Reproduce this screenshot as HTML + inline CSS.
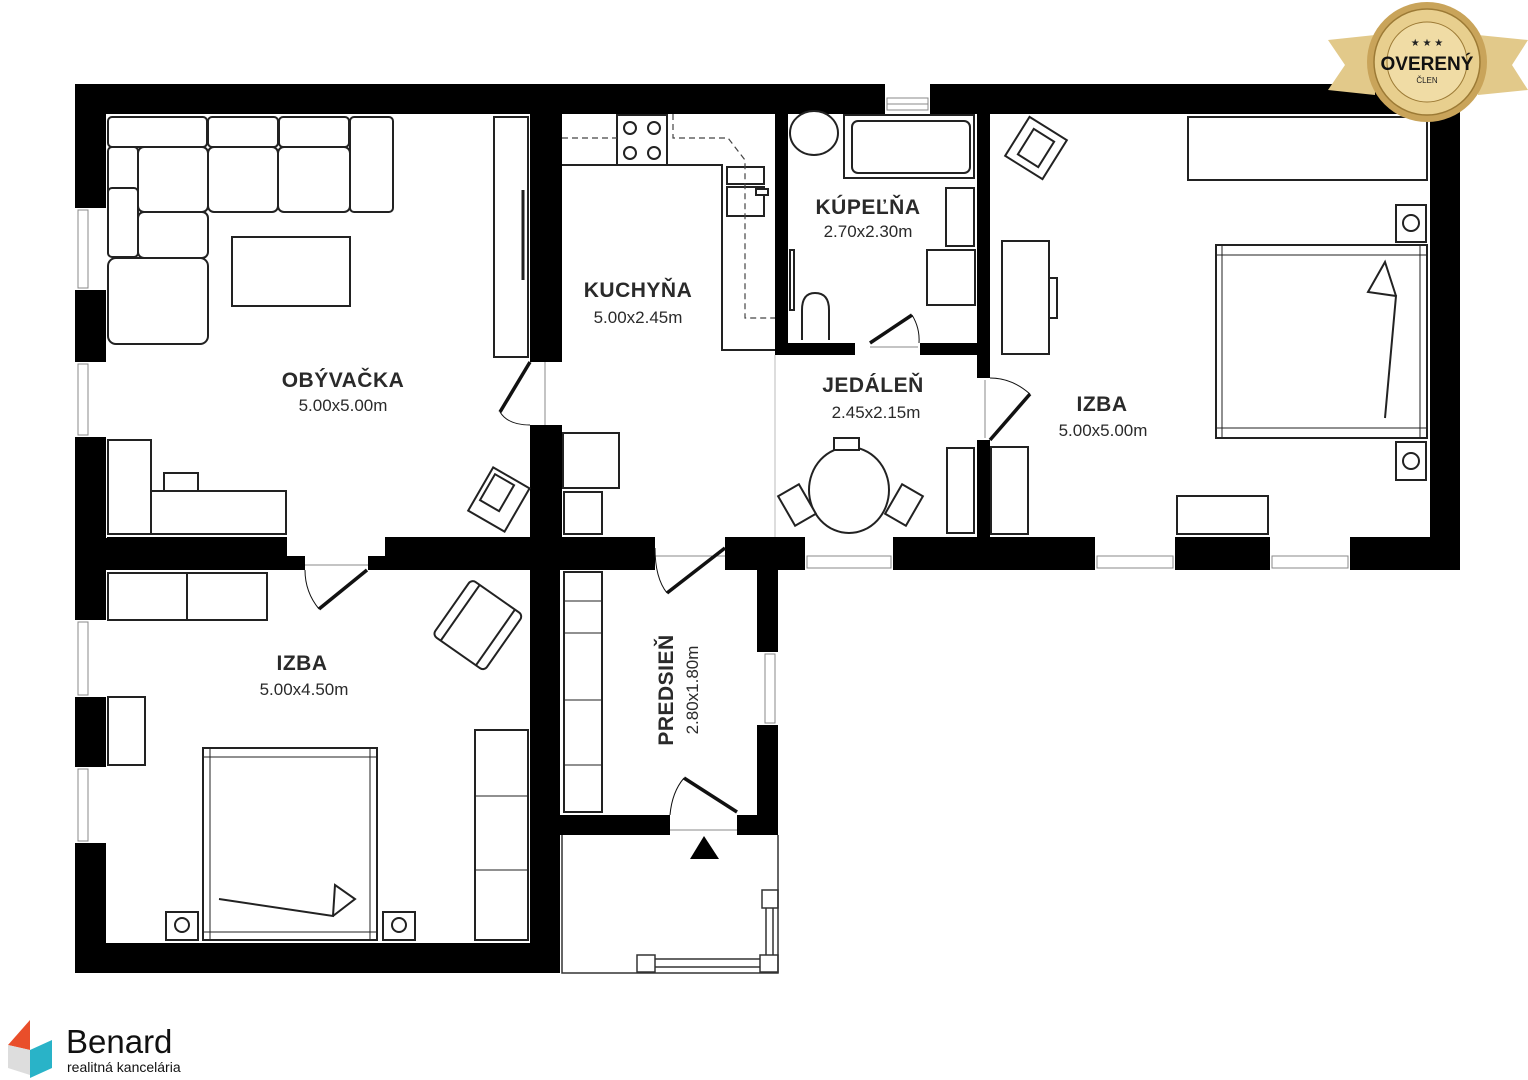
<!DOCTYPE html>
<html><head><meta charset="utf-8"><style>
html,body{margin:0;padding:0;background:#fff;}
svg{display:block}
.t{font-family:"Liberation Sans",sans-serif;font-weight:bold;font-size:21px;fill:#2a2a2a;text-anchor:middle;letter-spacing:0.5px}
.s{font-family:"Liberation Sans",sans-serif;font-size:17px;fill:#2a2a2a;text-anchor:middle}
</style></head><body>
<svg width="1528" height="1080" viewBox="0 0 1528 1080" xmlns="http://www.w3.org/2000/svg">
<g fill="#000">
<!-- outer walls -->
<rect x="75" y="84" width="1385" height="30"/>
<rect x="75" y="84" width="31" height="889"/>
<rect x="1430" y="84" width="30" height="486"/>
<rect x="75" y="943" width="485" height="30"/>
<!-- middle horizontal -->
<rect x="75" y="537" width="1385" height="33"/>
<!-- living/kitchen partition -->
<rect x="530" y="114" width="32" height="423"/>
<rect x="530" y="537" width="30" height="436"/>
<!-- bathroom -->
<rect x="775" y="114" width="13" height="241"/>
<rect x="775" y="343" width="215" height="12"/>
<rect x="977" y="114" width="13" height="423"/>
<!-- predsien -->
<rect x="757" y="570" width="21" height="265"/>
<rect x="560" y="815" width="218" height="20"/>
</g>
<!-- openings (white) -->
<g fill="#fff">
<rect x="885" y="84" width="45" height="30"/>
<rect x="75" y="208" width="31" height="82"/>
<rect x="75" y="362" width="31" height="75"/>
<rect x="75" y="620" width="31" height="77"/>
<rect x="75" y="767" width="31" height="76"/>
<rect x="530" y="362" width="32" height="63"/>
<rect x="977" y="378" width="13" height="62"/>
<rect x="287" y="537" width="98" height="19"/>
<rect x="305" y="556" width="63" height="14"/>
<rect x="655" y="537" width="70" height="33"/>
<rect x="805" y="537" width="88" height="33"/>
<rect x="1095" y="537" width="80" height="33"/>
<rect x="1270" y="537" width="80" height="33"/>
<rect x="757" y="652" width="21" height="73"/>
<rect x="670" y="815" width="67" height="20"/>
<rect x="855" y="343" width="65" height="12"/>
<rect x="106" y="537" width="1" height="1"/>
</g>
<g fill="none" stroke="#888" stroke-width="1">
<rect x="887" y="98" width="41" height="12"/><line x1="887" y1="104" x2="928" y2="104"/>
<rect x="78" y="210" width="10" height="78"/><rect x="78" y="364" width="10" height="71"/>
<rect x="78" y="622" width="10" height="73"/><rect x="78" y="769" width="10" height="72"/>
<rect x="807" y="556" width="84" height="12"/><rect x="1097" y="556" width="76" height="12"/><rect x="1272" y="556" width="76" height="12"/>
<rect x="765" y="654" width="10" height="69"/>
<line x1="775" y1="355" x2="775" y2="537" stroke="#bbb"/>
<line x1="545" y1="362" x2="545" y2="425"/><line x1="985" y1="380" x2="985" y2="438"/>
<line x1="655" y1="556" x2="725" y2="556"/><line x1="305" y1="565" x2="368" y2="565"/>
<line x1="670" y1="830" x2="737" y2="830"/><line x1="870" y1="347" x2="918" y2="347"/>
</g>
<!-- porch -->
<g fill="none" stroke="#333" stroke-width="1.5">
<path d="M562 835 V973 H778 V835"/>
<rect x="762" y="890" width="16" height="18"/><rect x="637" y="955" width="18" height="17"/><rect x="760" y="955" width="18" height="17"/>
<line x1="766" y1="908" x2="766" y2="955"/><line x1="773" y1="908" x2="773" y2="955"/>
<line x1="655" y1="959" x2="760" y2="959"/><line x1="655" y1="967" x2="760" y2="967"/>
</g>
<polygon points="704,836 690,859 719,859" fill="#000"/>
<!-- doors -->
<g stroke="#111" stroke-width="3.5" fill="none">
<line x1="530" y1="362" x2="500" y2="412"/><line x1="367" y1="570" x2="319" y2="609"/>
<line x1="725" y1="548" x2="667" y2="593"/><line x1="1030" y1="394" x2="990" y2="440"/>
<line x1="870" y1="343" x2="912" y2="315"/><line x1="737" y1="812" x2="684" y2="778"/>
</g>
<g stroke="#111" stroke-width="1" fill="none">
<path d="M500 412 Q508 425 530 425"/><path d="M319 609 Q305 592 305 570"/>
<path d="M667 593 Q655 578 655 548"/><path d="M1030 394 Q1012 378 990 378"/>
<path d="M912 315 Q920 328 919 343"/><path d="M684 778 Q672 792 670 815"/>
</g>
<!-- furniture -->
<g fill="#fff" stroke="#222" stroke-width="2">
<!-- sofa -->
<rect x="108" y="117" width="99" height="30" rx="4"/><rect x="208" y="117" width="70" height="30" rx="4"/><rect x="279" y="117" width="70" height="30" rx="4"/><rect x="350" y="117" width="43" height="95" rx="4"/>
<rect x="108" y="147" width="30" height="68" rx="4"/><rect x="108" y="188" width="30" height="69" rx="4"/>
<rect x="138" y="147" width="70" height="65" rx="6"/><rect x="208" y="147" width="70" height="65" rx="6"/><rect x="278" y="147" width="72" height="65" rx="6"/>
<rect x="138" y="212" width="70" height="46" rx="6"/><rect x="108" y="258" width="100" height="86" rx="8"/>
<rect x="232" y="237" width="118" height="69"/>
<rect x="494" y="117" width="34" height="240"/>
<line x1="523" y1="190" x2="523" y2="280" stroke-width="3"/>
<rect x="108" y="440" width="43" height="94"/><rect x="151" y="491" width="135" height="43"/><rect x="164" y="473" width="34" height="18"/>
<g transform="rotate(30 498 499)"><rect x="478" y="474" width="42" height="50"/><rect x="483" y="479" width="22" height="30"/></g>
<!-- kitchen -->
<path d="M562 165 H722 V350 H775" fill="none"/>
<rect x="617" y="115" width="50" height="50"/>
<circle cx="630" cy="128" r="6"/><circle cx="654" cy="128" r="6"/><circle cx="630" cy="153" r="6"/><circle cx="654" cy="153" r="6"/>
<rect x="727" y="167" width="37" height="17"/><rect x="727" y="187" width="37" height="29"/><rect x="756" y="189" width="12" height="6"/>
<rect x="563" y="433" width="56" height="55"/><rect x="564" y="492" width="38" height="42"/>
<!-- bath -->
<rect x="844" y="115" width="130" height="63"/><rect x="852" y="121" width="118" height="52" rx="6"/>
<ellipse cx="814" cy="133" rx="24" ry="22"/>
<rect x="946" y="188" width="28" height="58"/><rect x="927" y="250" width="48" height="55"/>
<path d="M802 340 V310 Q802 293 815 293 Q829 293 829 310 V340"/>
<rect x="790" y="250" width="4" height="60"/>
<!-- dining -->
<ellipse cx="849" cy="490" rx="40" ry="43"/>
<rect x="834" y="438" width="25" height="12"/>
<g transform="rotate(-30 797 505)"><rect x="785" y="488" width="24" height="34"/></g>
<g transform="rotate(30 904 505)"><rect x="892" y="488" width="24" height="34"/></g>
<rect x="947" y="448" width="27" height="85"/>
<!-- izba right -->
<rect x="1188" y="117" width="239" height="63"/>
<g transform="rotate(32 1036 148)"><rect x="1014" y="125" width="44" height="46"/><rect x="1024" y="133" width="24" height="30"/></g>
<rect x="1002" y="241" width="47" height="113"/><rect x="1049" y="278" width="8" height="40"/>
<rect x="1216" y="245" width="211" height="193"/>
<line x1="1222" y1="245" x2="1222" y2="438" stroke-width="1"/><line x1="1420" y1="245" x2="1420" y2="438" stroke-width="1"/>
<line x1="1216" y1="255" x2="1427" y2="255" stroke-width="1"/><line x1="1216" y1="428" x2="1427" y2="428" stroke-width="1"/>
<path d="M1385 418 L1396 296 L1368 292 L1385 262 L1396 296" fill="none"/>
<rect x="1396" y="205" width="30" height="37"/><circle cx="1411" cy="223" r="8"/>
<rect x="1396" y="442" width="30" height="38"/><circle cx="1411" cy="461" r="8"/>
<rect x="991" y="447" width="37" height="87"/>
<rect x="1177" y="496" width="91" height="38"/>
<!-- izba left -->
<rect x="108" y="573" width="79" height="47"/><rect x="187" y="573" width="80" height="47"/>
<g transform="rotate(35 478 624)"><rect x="447" y="591" width="63" height="68" rx="5"/><line x1="457" y1="591" x2="457" y2="659"/><line x1="500" y1="591" x2="500" y2="659"/></g>
<rect x="108" y="697" width="37" height="68"/>
<rect x="475" y="730" width="53" height="210"/><line x1="475" y1="796" x2="528" y2="796" stroke-width="1"/><line x1="475" y1="870" x2="528" y2="870" stroke-width="1"/>
<rect x="203" y="748" width="174" height="192"/>
<line x1="210" y1="748" x2="210" y2="940" stroke-width="1"/><line x1="370" y1="748" x2="370" y2="940" stroke-width="1"/>
<line x1="203" y1="757" x2="377" y2="757" stroke-width="1"/><line x1="203" y1="932" x2="377" y2="932" stroke-width="1"/>
<path d="M219 899 L333 916 L335 885 L355 899 L333 916" fill="none"/>
<rect x="166" y="912" width="32" height="28"/><circle cx="182" cy="925" r="7"/>
<rect x="383" y="912" width="32" height="28"/><circle cx="399" cy="925" r="7"/>
<!-- predsien -->
<rect x="564" y="572" width="38" height="240"/>
<line x1="564" y1="601" x2="602" y2="601" stroke-width="1"/><line x1="564" y1="633" x2="602" y2="633" stroke-width="1"/><line x1="564" y1="700" x2="602" y2="700" stroke-width="1"/><line x1="564" y1="765" x2="602" y2="765" stroke-width="1"/>
</g>
<g fill="none" stroke="#444" stroke-width="1.2" stroke-dasharray="6,4">
<path d="M562 138 H617"/><path d="M673 114 V138 H728 L745 160 V318 H775"/>
</g>
<!-- labels -->
<text class="t" x="343" y="387">OBÝVAČKA</text><text class="s" x="343" y="411">5.00x5.00m</text>
<text class="t" x="638" y="297">KUCHYŇA</text><text class="s" x="638" y="323">5.00x2.45m</text>
<text class="t" x="868" y="214">KÚPEĽŇA</text><text class="s" x="868" y="237">2.70x2.30m</text>
<text class="t" x="873" y="392">JEDÁLEŇ</text><text class="s" x="876" y="418">2.45x2.15m</text>
<text class="t" x="1102" y="411">IZBA</text><text class="s" x="1103" y="436">5.00x5.00m</text>
<text class="t" x="302" y="670">IZBA</text><text class="s" x="304" y="695">5.00x4.50m</text>
<text class="t" x="0" y="0" transform="translate(673 690) rotate(-90)">PREDSIEŇ</text>
<text class="s" x="0" y="0" transform="translate(698 690) rotate(-90)">2.80x1.80m</text>
<!-- logo -->
<polygon points="8,1045 30,1020 30,1050" fill="#e94e2a"/>
<polygon points="8,1045 30,1050 30,1075 8,1068" fill="#ddd"/>
<polygon points="30,1050 52,1040 52,1068 30,1078" fill="#29b3c8"/>
<text x="66" y="1053" font-family="Liberation Sans,sans-serif" font-size="33" fill="#111">Benard</text>
<text x="67" y="1072" font-family="Liberation Sans,sans-serif" font-size="14" fill="#111">realitná kancelária</text>
<!-- seal -->
<polygon points="1328,40 1375,35 1375,95 1328,90 1345,65" fill="#e2c98a"/>
<polygon points="1528,40 1478,35 1478,95 1528,90 1512,65" fill="#e2c98a"/>
<circle cx="1427" cy="62" r="60" fill="#c9a45a"/>
<circle cx="1427" cy="62" r="53" fill="#e8cf8e" stroke="#9c7a35" stroke-width="1.5"/>
<circle cx="1427" cy="62" r="40" fill="#f0dca5" stroke="#9c7a35" stroke-width="1"/>
<text x="1427" y="46" font-family="Liberation Sans,sans-serif" font-size="10" fill="#222" text-anchor="middle">★ ★ ★</text>
<text x="1427" y="70" font-family="Liberation Sans,sans-serif" font-weight="bold" font-size="19" fill="#111" text-anchor="middle">OVERENÝ</text>
<text x="1427" y="83" font-family="Liberation Sans,sans-serif" font-size="8" fill="#222" text-anchor="middle">ČLEN</text>
</svg>
</body></html>
